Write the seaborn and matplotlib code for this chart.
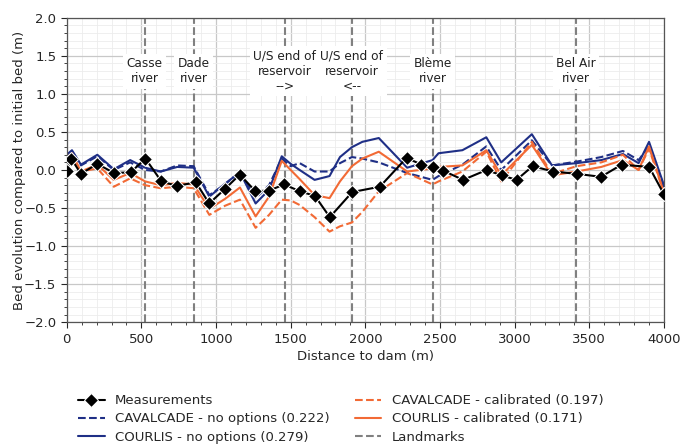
import numpy as np
import pandas as pd
import matplotlib
matplotlib.use("Agg")
import matplotlib.pyplot as plt
import seaborn as sns

# Measurements
meas_x = [0, 30, 95, 205, 317, 429, 527, 634, 741, 864, 954, 1059, 1159, 1264, 1356, 1456,
          1561, 1662, 1762, 1912, 2097, 2276, 2376, 2450, 2522, 2655, 2812, 2912, 3013, 3120,
          3259, 3415, 3578, 3716, 3901, 4000]
meas_y = [-0.01, 0.15, -0.05, 0.08, -0.04, -0.03, 0.15, -0.15, -0.21, -0.16, -0.44, -0.25,
          -0.06, -0.28, -0.27, -0.19, -0.28, -0.34, -0.62, -0.29, -0.22, 0.16, 0.07, 0.04,
          -0.01, -0.13, 0.0, -0.07, -0.13, 0.05, -0.02, -0.05, -0.09, 0.07, 0.04, -0.32]

# Model profiles
model_x = [0, 35, 95, 205, 315, 425, 525, 630, 740, 850, 955, 1060, 1160, 1265, 1355, 1440,
           1500, 1560, 1660, 1760, 1830, 1910, 1980, 2090, 2280, 2450, 2490, 2650, 2810, 2910,
           3115, 3250, 3415, 3580, 3725, 3830, 3900, 4000]
courlis_noopt = [0.20, 0.26, 0.07, 0.20, 0.01, 0.13, 0.03, -0.02, 0.04, 0.03, -0.35, -0.18,
                 -0.03, -0.44, -0.26, 0.18, 0.08, 0.0, -0.13, -0.08, 0.17, 0.30, 0.37, 0.42,
                 0.03, 0.13, 0.22, 0.26, 0.43, 0.10, 0.47, 0.06, 0.09, 0.13, 0.21, 0.09, 0.37, -0.20]
cavalcade_noopt = [0.18, 0.24, 0.06, 0.18, 0.0, 0.10, 0.0, -0.02, 0.06, 0.05, -0.33, -0.19,
                   -0.02, -0.37, -0.20, 0.15, 0.05, 0.09, -0.02, -0.02, 0.09, 0.17, 0.15, 0.10,
                   -0.04, -0.13, -0.08, 0.07, 0.31, 0.0, 0.39, 0.06, 0.11, 0.17, 0.25, 0.13, 0.31, -0.25]
courlis_cal = [0.16, 0.22, -0.02, 0.07, -0.13, -0.04, -0.15, -0.20, -0.17, -0.19, -0.51, -0.38,
               -0.23, -0.61, -0.35, 0.12, 0.0, -0.12, -0.33, -0.37, -0.15, 0.05, 0.15, 0.24,
               -0.02, 0.02, 0.04, 0.06, 0.26, -0.07, 0.33, -0.07, -0.02, 0.04, 0.13, 0.0, 0.31, -0.30]
cavalcade_cal = [0.14, 0.20, -0.02, 0.02, -0.22, -0.11, -0.20, -0.24, -0.22, -0.24, -0.59, -0.47,
                 -0.39, -0.76, -0.59, -0.39, -0.40, -0.46, -0.62, -0.81, -0.74, -0.69, -0.55, -0.28,
                 -0.04, -0.19, -0.15, -0.02, 0.24, -0.15, 0.37, -0.05, 0.05, 0.10, 0.20, 0.0, 0.28, -0.30]

# Landmarks
landmark_x = [523, 851, 1461, 1910, 2452, 3410]
landmark_labels = ["Casse\nriver", "Dade\nriver", "U/S end of\nreservoir\n-->",
                   "U/S end of\nreservoir\n<--", "Blème\nriver", "Bel Air\nriver"]

NAVY = "#1f2f86"
ORANGE = "#f26a35"

sns.set_style("white")
plt.rcParams["font.family"] = ["DejaVu Sans"]
plt.rcParams["font.size"] = 9.5

fig = plt.figure(figsize=(6.81, 4.45), dpi=100)
ax = fig.add_axes([0.098, 0.276, 0.877, 0.684])

for xv in landmark_x:
    ax.axvline(xv, color="#808080", ls="--", lw=1.5, zorder=2)

sns.lineplot(x=meas_x, y=meas_y, ax=ax, color="black", marker="D", markersize=7,
             lw=1.5, label="Measurements", zorder=6, estimator=None, sort=False)
sns.lineplot(x=model_x, y=cavalcade_noopt, ax=ax, color=NAVY, lw=1.5, linestyle="--",
             label="CAVALCADE - no options (0.222)", estimator=None, sort=False)
sns.lineplot(x=model_x, y=courlis_noopt, ax=ax, color=NAVY, lw=1.5,
             label="COURLIS - no options (0.279)", estimator=None, sort=False)
sns.lineplot(x=model_x, y=cavalcade_cal, ax=ax, color=ORANGE, lw=1.5, linestyle="--",
             label="CAVALCADE - calibrated (0.197)", estimator=None, sort=False)
sns.lineplot(x=model_x, y=courlis_cal, ax=ax, color=ORANGE, lw=1.5,
             label="COURLIS - calibrated (0.171)", estimator=None, sort=False)
ax.plot([], [], color="#808080", ls="--", lw=1.5, label="Landmarks")

for xv, lab in zip(landmark_x, landmark_labels):
    ax.text(xv, 1.3, lab, ha="center", va="center", multialignment="center",
            fontsize=8.7, color="#222222", zorder=5,
            bbox=dict(facecolor="white", edgecolor="none", pad=2.5))

ax.set_xlim(0, 4000)
ax.set_ylim(-2.0, 2.0)
ax.set_xticks(np.arange(0, 4001, 500))
ax.set_yticks(np.arange(-2.0, 2.01, 0.5))
ax.minorticks_on()
ax.grid(which="major", color="#c8c8c8", lw=0.9)
ax.grid(which="minor", color="#ececec", lw=0.6)
ax.set_axisbelow(True)
ax.tick_params(which="both", direction="out", left=True, bottom=True)
ax.tick_params(which="major", length=4)
ax.tick_params(which="minor", length=2)
for s in ax.spines.values():
    s.set_color("#555555")
    s.set_linewidth(0.9)

ax.set_xlabel("Distance to dam (m)", labelpad=3)
ax.set_ylabel("Bed evolution compared to initial bed (m)", labelpad=-1.5)

handles, labels = ax.get_legend_handles_labels()
ax.legend_.remove()
fig.legend(handles, labels, ncol=2, frameon=False, loc="upper left",
           bbox_to_anchor=(0.107, 0.126), borderaxespad=0, handlelength=2.0,
           columnspacing=1.9, labelspacing=0.4, fontsize=9.5)

fig.savefig("out.png", dpi=100)
